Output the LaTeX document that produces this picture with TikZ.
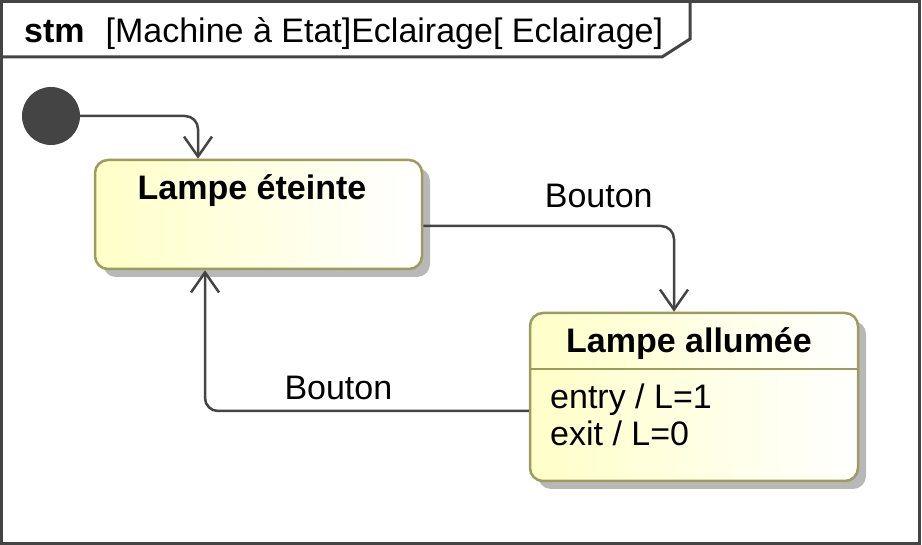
\documentclass[tikz,border=0pt]{standalone}
\usepackage{fontspec}
\setmainfont{Liberation Sans}
\usetikzlibrary{arrows.meta,shadows}
\definecolor{linegray}{HTML}{444444}
\definecolor{stateborder}{HTML}{9C9C5E}
\definecolor{stateyellow}{HTML}{FFFFC8}
\definecolor{shadowgray}{HTML}{B8B8B8}

\begin{document}
\begin{tikzpicture}[x=1pt,y=1pt,
    font=\fontsize{34}{40}\selectfont,
    state/.style={draw=stateborder, line width=2.5pt, rounded corners=13pt,
      left color=stateyellow, right color=white,
      drop shadow={shadow xshift=8pt, shadow yshift=-8pt, fill=shadowgray, opacity=1}},
    trans/.style={draw=linegray, line width=2.5pt, rounded corners=13pt,
      -{Straight Barb[length=20pt, width=28pt, line width=2.5pt]}},
    frameline/.style={draw=linegray, line width=3pt}]
  \useasboundingbox (0,0) rectangle (922,-545);

  % frame and header
  \draw[frameline] (1.5,-1.5) rectangle (919.5,-543.5);
  \draw[frameline] (3,-57) -- (662,-57) -- (690,-39) -- (690,-3);
  \node[anchor=base west, inner sep=0pt] (header) at (24,-43)
    {\textbf{stm}\hspace{21pt}[Machine à Etat]Eclairage[ Eclairage]};

  % states
  \node[state, minimum width=327pt, minimum height=109pt] (eteinte) at (258.5,-214.5) {};
  \node[anchor=base, inner sep=0pt] (eteintetitle) at (252,-200) {\textbf{Lampe éteinte}};

  \node[state, minimum width=328pt, minimum height=168pt] (allumee) at (694,-397) {};
  \draw[stateborder, line width=2.5pt] (allumee.west |- 0,-369) -- (allumee.east |- 0,-369);
  \node[anchor=base, inner sep=0pt] (allumeetitle) at (689,-353) {\textbf{Lampe allumée}};
  \node[anchor=base west, inner sep=0pt] (entry) at (550,-409) {entry / L=1};
  \node[anchor=base west, inner sep=0pt] (exit) at (550,-446) {exit / L=0};

  % initial state
  \node[circle, fill=linegray, minimum size=58pt, inner sep=0pt] (init) at (51,-116) {};

  % transitions
  \draw[trans] (init.east) -| ([xshift=-60.5pt]eteinte.north);
  \draw[trans] ([yshift=-11.5pt]eteinte.east) -| ([xshift=-20pt]allumee.north)
    node[pos=0.35, above=17pt, inner sep=0pt] (bouton1) {Bouton};
  \draw[trans] ([yshift=-14pt]allumee.west) -| ([xshift=-53.5pt]eteinte.south)
    node[pos=0.294, above=10pt, inner sep=0pt] (bouton2) {Bouton};
\end{tikzpicture}
\end{document}
